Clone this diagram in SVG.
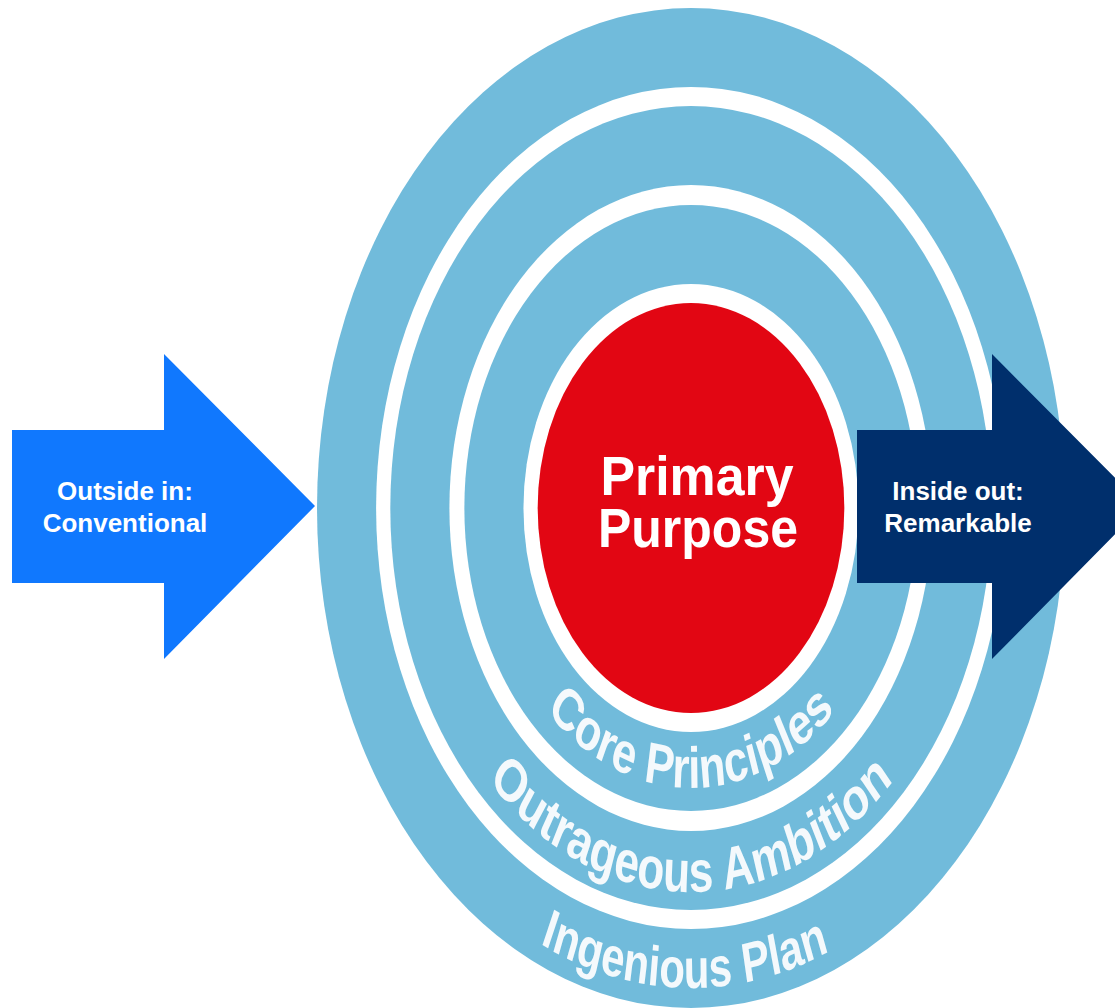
<svg xmlns="http://www.w3.org/2000/svg" width="1115" height="1008" viewBox="0 0 1115 1008">
<style>
.ring{fill:#71bbdb}
.gap{fill:#ffffff}
.core{fill:#e20613}
.ringtxt{font-family:"Liberation Sans",Arial,sans-serif;font-weight:bold;fill:#f4f9fc}
.arrtxt{font-family:"Liberation Sans",Arial,sans-serif;font-weight:bold;font-size:26px;fill:#ffffff;text-anchor:middle}
.big{font-family:"Liberation Sans",Arial,sans-serif;font-weight:bold;font-size:56px;fill:#ffffff;text-anchor:middle}
</style>
<defs>
<path id="p1" d="M -280 0 A 280 280 0 0 0 280 0"/>
<path id="p2" d="M -384 0 A 384 384 0 0 0 384 0"/>
<path id="p3" d="M -480 0 A 480 480 0 0 0 480 0"/>
</defs>
<rect width="1115" height="1008" fill="#ffffff"/>
<g transform="translate(691,508) scale(0.748,1)">
  <g id="ingenious-plan">
    <circle class="ring" r="500"/>
    <circle class="gap" r="421"/>
    <text class="ringtxt" font-size="56" text-anchor="middle"><textPath href="#p3" startOffset="49.4%">Ingenious Plan</textPath></text>
  </g>
  <g id="outrageous-ambition">
    <circle class="ring" r="402"/>
    <circle class="gap" r="323"/>
    <text class="ringtxt" font-size="59" text-anchor="middle"><textPath href="#p2" startOffset="50%">Outrageous Ambition</textPath></text>
  </g>
  <g id="core-principles">
    <circle class="ring" r="303"/>
    <circle class="gap" r="224"/>
    <text class="ringtxt" font-size="58" text-anchor="middle"><textPath href="#p1" startOffset="50%">Core Principles</textPath></text>
  </g>
  <g id="primary-purpose-shape">
    <circle class="core" r="205"/>
  </g>
</g>
<g id="primary-purpose">
  <text class="big" x="697" y="495" textLength="193" lengthAdjust="spacingAndGlyphs">Primary</text>
  <text class="big" x="698" y="547" textLength="200" lengthAdjust="spacingAndGlyphs">Purpose</text>
</g>
<g id="outside-in">
  <polygon points="12,430 164,430 164,354 315,506 164,659 164,583 12,583" fill="#1078fe"/>
  <text class="arrtxt" x="125" y="500">Outside in:</text>
  <text class="arrtxt" x="125" y="532">Conventional</text>
</g>
<g id="inside-out">
  <polygon points="857,430 992,430 992,354 1143,506 992,659 992,583 857,583" fill="#002f6c"/>
  <text class="arrtxt" x="958" y="500">Inside out:</text>
  <text class="arrtxt" x="958" y="532">Remarkable</text>
</g>
<g id="connectors"/>
</svg>
